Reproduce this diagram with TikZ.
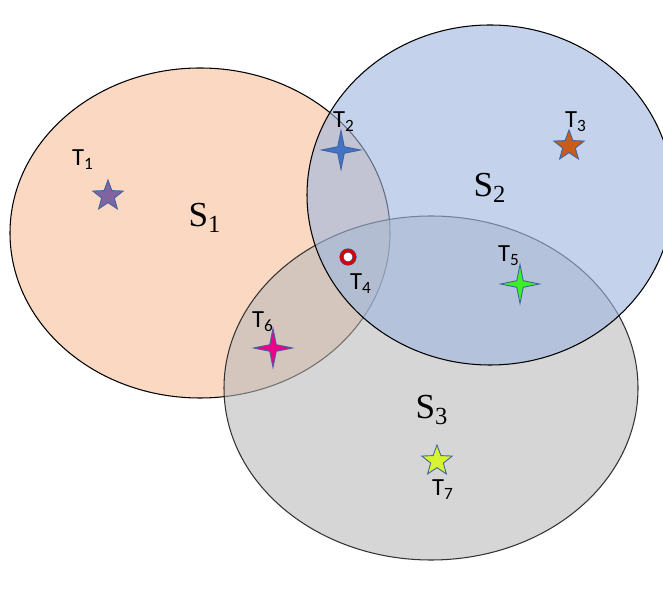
\documentclass[tikz,border=0pt]{standalone}
\usepackage{fontspec}
\setmainfont{Liberation Serif}
\newfontfamily\tfont{Carlito}
\usetikzlibrary{shapes.geometric}
\definecolor{zonePeach}{HTML}{FAD8C2}
\definecolor{zoneBlue}{HTML}{9EB7DF}
\definecolor{zoneGray}{HTML}{BBBBBB}
\definecolor{markEdge}{HTML}{41639E}
\tikzset{
    zone/.style={draw=black, line width=0.6pt},
    fivestar/.style={star, star points=5, star point ratio=2.4, minimum size=0.64cm, inner sep=0pt, draw=markEdge, line width=0.5pt},
    fourstar/.style={star, star points=4, star point ratio=4.2, minimum size=0.78cm, inner sep=0pt, draw=markEdge, line width=0.5pt},
    tlabel/.style={font=\tfont\fontsize{14}{16}\selectfont, inner sep=0pt},
    slabel/.style={font=\fontsize{20}{24}\selectfont, inner sep=0pt}
}
\begin{document}
\begin{tikzpicture}
\useasboundingbox (0,0) rectangle (13.26,12.04);
\clip (0,0) rectangle (13.26,12.04);
\fill[white] (0,0) rectangle (13.26,12.04);

% three coverage regions, S2 stays on top
\draw[zone, fill=zonePeach] (4.0,7.38) ellipse (3.8 and 3.3);
\draw[zone, draw=black!80, fill=zoneGray, fill opacity=0.6] (8.62,4.28) ellipse (4.14 and 3.44);
\draw[zone, fill=zoneBlue, fill opacity=0.6] (9.8,8.14) ellipse (3.66 and 3.4);

\node[slabel] (s1) at (4.1,7.68) {S\textsubscript{1}};
\node[slabel] (s2) at (9.8,8.28) {S\textsubscript{2}};
\node[slabel] (s3) at (8.64,3.84) {S\textsubscript{3}};

% targets
\node[fivestar, fill={rgb,255:red,128;green,100;blue,162}] (t1) at (2.16,8.12) {};
\node[tlabel] (t1lab) at (1.66,8.84) {T\textsubscript{1}};
\node[fourstar, fill={rgb,255:red,68;green,114;blue,196}] (t2) at (6.82,9.04) {};
\node[tlabel] (t2lab) at (6.88,9.6) {T\textsubscript{2}};
\node[fivestar, fill={rgb,255:red,200;green,92;blue,28}] (t3) at (11.38,9.12) {};
\node[tlabel] (t3lab) at (11.52,9.6) {T\textsubscript{3}};
\node[circle, minimum size=0.26cm, inner sep=0pt, draw=markEdge, line width=0.3pt, double=red!85!black, double distance=1.8pt, fill=white] (t4) at (6.96,6.9) {};
\node[tlabel] (t4lab) at (7.22,6.36) {T\textsubscript{4}};
\node[fourstar, fill={rgb,255:red,60;green,240;blue,40}] (t5) at (10.4,6.36) {};
\node[tlabel] (t5lab) at (10.18,6.92) {T\textsubscript{5}};
\node[fourstar, fill=magenta] (t6) at (5.46,5.08) {};
\node[tlabel] (t6lab) at (5.26,5.6) {T\textsubscript{6}};
\node[fivestar, fill={rgb,255:red,214;green,244;blue,50}] (t7) at (8.74,2.82) {};
\node[tlabel] (t7lab) at (8.86,2.24) {T\textsubscript{7}};
\end{tikzpicture}
\end{document}
